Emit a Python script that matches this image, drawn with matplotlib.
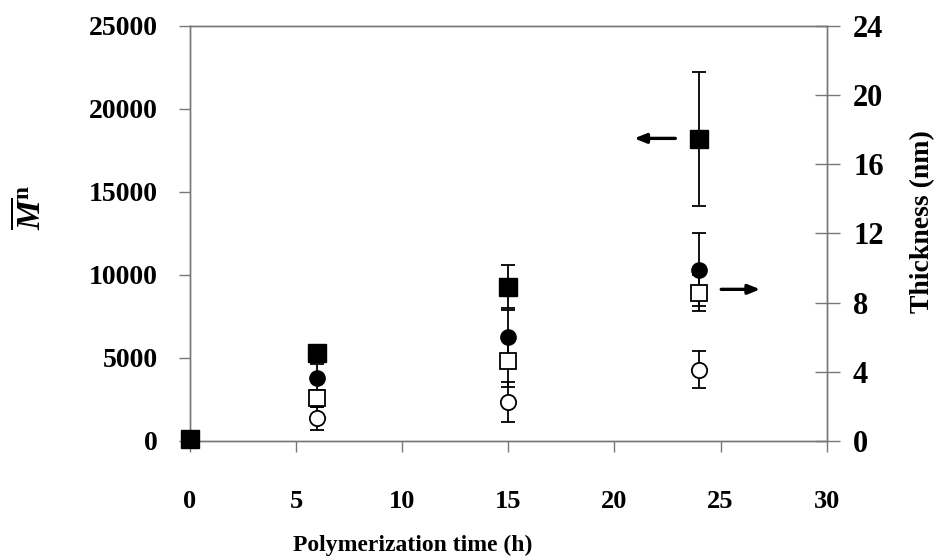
import numpy as np
import matplotlib
matplotlib.use('Agg')
import matplotlib.pyplot as plt

plt.rcParams['font.family'] = ['Liberation Serif', 'DejaVu Serif']
plt.rcParams['font.weight'] = 'bold'
plt.rcParams['mathtext.fontset'] = 'custom'
plt.rcParams['mathtext.rm'] = 'Liberation Serif'
plt.rcParams['mathtext.it'] = 'Liberation Serif:italic'
plt.rcParams['mathtext.bf'] = 'Liberation Serif:bold'

# Mn (left axis), filled squares
time_mn = [0, 6, 15, 24]
mn = [100, 5300, 9300, 18200]
mn_err = [0, 0, 1300, 4050]

# thickness (right axis)
time_th = [6, 15, 24]
th_filled_circle = [3.62, 6.0, 9.9]
th_filled_circle_err = [0.85, 1.6, 2.1]
th_open_square = [2.47, 4.64, 8.55]
th_open_square_err = [0.5, 1.5, 1.05]
th_open_circle = [1.31, 2.27, 4.13]
th_open_circle_err = [0.65, 1.15, 1.05]

xticks = [0, 5, 10, 15, 20, 25, 30]
yticks_left = [0, 5000, 10000, 15000, 20000, 25000]
yticks_right = [0, 4, 8, 12, 16, 20, 24]

fig = plt.figure(figsize=(9.41, 5.59), dpi=100)
ax = fig.add_axes([0.2019, 0.2111, 0.8785 - 0.2019, 0.9535 - 0.2111])
ax2 = ax.twinx()

ebkw = dict(ecolor='black', elinewidth=1.3, capsize=5, capthick=1.3, linestyle='none')

ax2.errorbar(time_th, th_open_circle, yerr=th_open_circle_err, marker='o', ms=11,
             mfc='white', mec='black', mew=1.3, **ebkw)
ax2.errorbar(time_th, th_open_square, yerr=th_open_square_err, marker='s', ms=11,
             mfc='white', mec='black', mew=1.3, **ebkw)
ax2.errorbar(time_th, th_filled_circle, yerr=th_filled_circle_err, marker='o', ms=11,
             mfc='black', mec='black', **ebkw)
ax.errorbar(time_mn, mn, yerr=mn_err, marker='s', ms=13, mfc='black', mec='black',
            clip_on=False, zorder=5, **ebkw)

ax.set_xlim(0, 30)
ax.set_ylim(0, 25000)
ax2.set_ylim(0, 24)
ax.set_xticks(xticks)
ax.set_yticks(yticks_left)
ax2.set_yticks(yticks_right)

for a in (ax, ax2):
    for s in a.spines.values():
        s.set_color('#777777')
        s.set_linewidth(1.0)
ax.set_zorder(2)
ax2.set_zorder(1)
ax.patch.set_visible(False)

ax.tick_params(axis='y', direction='out', length=8, width=1, color='#777777',
               labelsize=20, pad=15)
ax.tick_params(axis='x', direction='out', length=8, width=1, color='#777777',
               labelsize=19, pad=27)
ax2.tick_params(axis='y', direction='inout', length=18, width=1, color='#777777',
                labelsize=22, pad=10)
for lab in ax.get_xticklabels() + ax.get_yticklabels() + ax2.get_yticklabels():
    lab.set_fontweight('bold')

fig.text(413 / 941, 1 - 545 / 559, 'Polymerization time (h)', fontsize=17,
         fontweight='bold', ha='center', va='center')
fig.text(923 / 941, 1 - 222 / 559, 'Thickness (nm)', fontsize=20,
         fontweight='bold', rotation=90, ha='center', va='center')
fig.text(30 / 941, 1 - 208 / 559, r'$\overline{M}^{\mathbf{n}}$', fontsize=24,
         rotation=90, ha='center', va='center')

ax2.annotate('', xy=(20.8, 17.5), xytext=(23.0, 17.5),
             arrowprops=dict(arrowstyle='-|>,head_length=0.7,head_width=0.28',
                             color='black', lw=2.4))
ax2.annotate('', xy=(27.0, 8.77), xytext=(24.9, 8.77),
             arrowprops=dict(arrowstyle='-|>,head_length=0.7,head_width=0.28',
                             color='black', lw=2.4))

fig.savefig('out.png', dpi=100)
